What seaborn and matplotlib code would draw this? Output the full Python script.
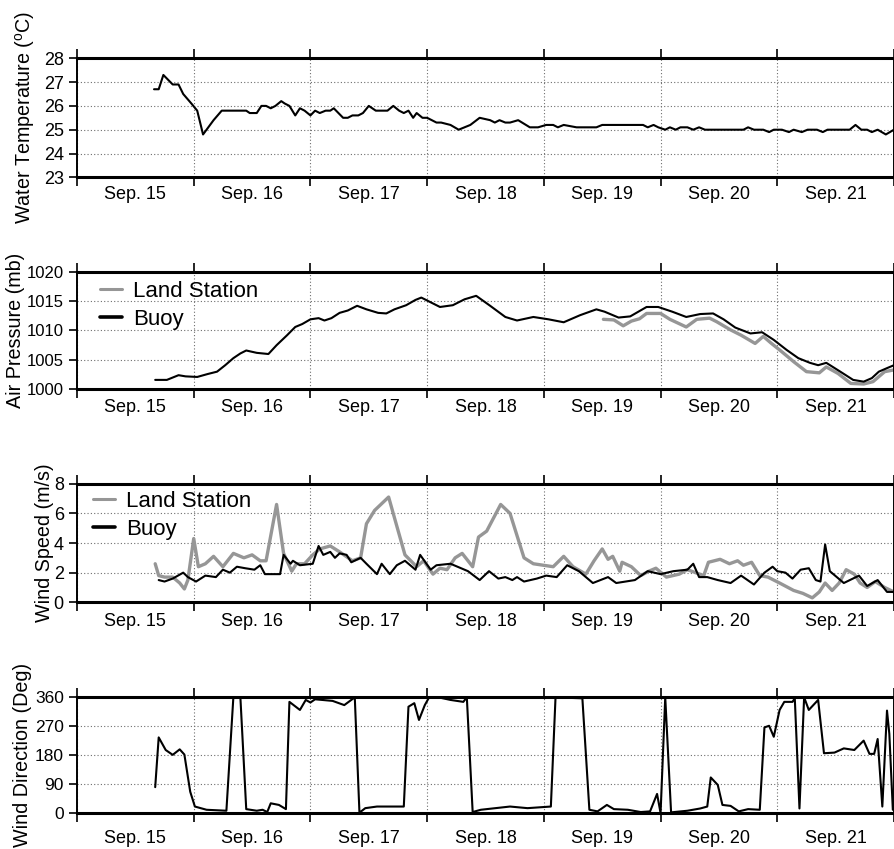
import matplotlib
matplotlib.use("Agg")
import matplotlib.pyplot as plt
import seaborn as sns
from matplotlib.ticker import FixedLocator, NullFormatter, FixedFormatter
from matplotlib.lines import Line2D

# ---------------- data (x = day of September, fractional) ----------------
day_edges = [15, 16, 17, 18, 19, 20, 21, 22]
day_centers = [15.5, 16.5, 17.5, 18.5, 19.5, 20.5, 21.5]
day_labels = ["Sep. 15", "Sep. 16", "Sep. 17", "Sep. 18", "Sep. 19", "Sep. 20", "Sep. 21"]

temp_day = [15.66, 15.70, 15.74, 15.82, 15.87, 15.91, 15.98, 16.03, 16.08, 16.17, 16.24,
            16.45, 16.48, 16.54, 16.58, 16.62, 16.66, 16.70, 16.75, 16.78, 16.82, 16.87,
            16.91, 16.95, 17.00, 17.04, 17.08, 17.13, 17.17, 17.20, 17.28, 17.32, 17.36,
            17.41, 17.45, 17.50, 17.56, 17.66, 17.71, 17.76, 17.80, 17.84, 17.88, 17.91,
            17.96, 18.00, 18.08, 18.12, 18.20, 18.27, 18.37, 18.45, 18.54, 18.58, 18.62,
            18.67, 18.71, 18.78, 18.88, 18.95, 19.02, 19.08, 19.12, 19.17, 19.28, 19.45,
            19.50, 19.85, 19.89, 19.94, 19.98, 20.04, 20.08, 20.13, 20.17, 20.23, 20.28,
            20.33, 20.38, 20.71, 20.75, 20.80, 20.88, 20.93, 20.97, 21.04, 21.10, 21.14,
            21.21, 21.26, 21.34, 21.39, 21.43, 21.62, 21.67, 21.72, 21.77, 21.81, 21.86,
            21.93, 22.00]
temp_val = [26.7, 26.7, 27.3, 26.9, 26.9, 26.5, 26.1, 25.8, 24.8, 25.4, 25.8,
            25.8, 25.7, 25.7, 26.0, 26.0, 25.9, 26.0, 26.2, 26.1, 26.0, 25.6,
            25.9, 25.8, 25.6, 25.8, 25.7, 25.8, 25.8, 25.9, 25.5, 25.5, 25.6,
            25.6, 25.7, 26.0, 25.8, 25.8, 26.0, 25.8, 25.7, 25.8, 25.5, 25.7,
            25.5, 25.5, 25.3, 25.3, 25.2, 25.0, 25.2, 25.5, 25.4, 25.3, 25.4,
            25.3, 25.3, 25.4, 25.1, 25.1, 25.2, 25.2, 25.1, 25.2, 25.1, 25.1,
            25.2, 25.2, 25.1, 25.2, 25.1, 25.0, 25.1, 25.0, 25.1, 25.1, 25.0,
            25.1, 25.0, 25.0, 25.1, 25.0, 25.0, 24.9, 25.0, 25.0, 24.9, 25.0,
            24.9, 25.0, 25.0, 24.9, 25.0, 25.0, 25.2, 25.0, 25.0, 24.9, 25.0,
            24.8, 25.0]

pres_buoy_day = [15.67, 15.77, 15.87, 15.93, 16.03, 16.12, 16.20, 16.27, 16.34, 16.40,
                 16.45, 16.54, 16.64, 16.71, 16.80, 16.87, 16.93, 17.00, 17.07, 17.12,
                 17.18, 17.25, 17.32, 17.40, 17.48, 17.58, 17.65, 17.72, 17.82, 17.90,
                 17.95, 18.02, 18.11, 18.22, 18.32, 18.42, 18.54, 18.67, 18.77, 18.91,
                 19.04, 19.17, 19.31, 19.45, 19.52, 19.64, 19.74, 19.88, 19.98, 20.10,
                 20.22, 20.34, 20.45, 20.54, 20.64, 20.77, 20.87, 20.97, 21.08, 21.18,
                 21.28, 21.35, 21.42, 21.54, 21.65, 21.74, 21.81, 21.87, 21.94, 22.00]
pres_buoy_val = [1001.6, 1001.6, 1002.4, 1002.2, 1002.1, 1002.6, 1003.0, 1004.1, 1005.3, 1006.1,
                 1006.6, 1006.2, 1006.0, 1007.5, 1009.2, 1010.6, 1011.1, 1011.9, 1012.1, 1011.7,
                 1012.1, 1013.0, 1013.4, 1014.2, 1013.6, 1013.0, 1012.9, 1013.6, 1014.3, 1015.2,
                 1015.6, 1014.9, 1014.0, 1014.3, 1015.3, 1015.9, 1014.2, 1012.3, 1011.7, 1012.3,
                 1011.9, 1011.4, 1012.6, 1013.6, 1013.2, 1012.2, 1012.4, 1014.0, 1014.0, 1013.2,
                 1012.3, 1012.8, 1012.9, 1011.9, 1010.5, 1009.5, 1009.7, 1008.4, 1006.7, 1005.3,
                 1004.5, 1004.1, 1004.5, 1003.0, 1001.6, 1001.3, 1001.9, 1003.0, 1003.6, 1004.1]

pres_land_day = [19.51, 19.60, 19.68, 19.75, 19.82, 19.88, 20.00, 20.08, 20.22, 20.31,
                 20.42, 20.48, 20.60, 20.69, 20.81, 20.88, 20.95, 21.02, 21.14, 21.25,
                 21.36, 21.42, 21.52, 21.63, 21.74, 21.82, 21.92, 22.00]
pres_land_val = [1011.9, 1011.8, 1010.8, 1011.6, 1012.0, 1012.9, 1012.9, 1011.9, 1010.6, 1011.9,
                 1012.1, 1011.5, 1010.1, 1009.2, 1007.8, 1009.0, 1007.8, 1006.7, 1004.7, 1003.0,
                 1002.8, 1003.8, 1002.7, 1001.0, 1000.9, 1001.3, 1003.0, 1003.3]

ws_land_day = [15.67, 15.70, 15.75, 15.82, 15.88, 15.92, 15.95, 16.00, 16.04, 16.10,
               16.17, 16.25, 16.34, 16.43, 16.50, 16.57, 16.62, 16.71, 16.77, 16.84,
               16.88, 16.95, 17.02, 17.08, 17.17, 17.25, 17.36, 17.43, 17.48, 17.55,
               17.67, 17.72, 17.81, 17.91, 17.97, 18.05, 18.11, 18.17, 18.24, 18.30,
               18.39, 18.44, 18.51, 18.63, 18.71, 18.83, 18.91, 19.08, 19.17, 19.25,
               19.36, 19.43, 19.50, 19.55, 19.59, 19.65, 19.67, 19.75, 19.83, 19.90,
               19.96, 20.05, 20.16, 20.23, 20.37, 20.41, 20.51, 20.59, 20.66, 20.71,
               20.78, 20.85, 20.92, 21.02, 21.14, 21.22, 21.30, 21.36, 21.41, 21.47,
               21.53, 21.59, 21.66, 21.71, 21.77, 21.84, 21.92, 22.00]
ws_land_val = [2.6, 1.8, 1.7, 1.7, 1.3, 0.9, 1.5, 4.3, 2.4, 2.6,
               3.1, 2.4, 3.3, 3.0, 3.2, 2.8, 2.8, 6.6, 3.3, 2.1,
               2.6, 2.6, 3.2, 3.6, 3.8, 3.4, 2.8, 3.0, 5.3, 6.2,
               7.1, 5.7, 3.2, 2.4, 2.8, 1.9, 2.3, 2.2, 3.0, 3.3,
               2.4, 4.4, 4.8, 6.6, 6.0, 3.0, 2.6, 2.4, 3.1, 2.4,
               1.9, 2.8, 3.6, 2.9, 3.1, 2.1, 2.7, 2.4, 1.8, 2.1,
               2.3, 1.7, 1.9, 2.2, 1.8, 2.7, 2.9, 2.6, 2.8, 2.5,
               2.7, 1.8, 1.7, 1.3, 0.8, 0.6, 0.3, 0.7, 1.3, 0.8,
               1.3, 2.2, 1.9, 1.3, 1.0, 1.4, 1.0, 0.7]

ws_buoy_day = [15.70, 15.75, 15.82, 15.91, 15.95, 16.02, 16.10, 16.19, 16.25, 16.31,
               16.37, 16.44, 16.52, 16.57, 16.61, 16.74, 16.77, 16.83, 16.85, 16.91,
               17.02, 17.07, 17.11, 17.17, 17.21, 17.25, 17.31, 17.35, 17.43, 17.48,
               17.57, 17.61, 17.68, 17.74, 17.81, 17.90, 17.94, 18.03, 18.08, 18.20,
               18.35, 18.45, 18.53, 18.61, 18.67, 18.73, 18.77, 18.83, 18.94, 19.02,
               19.11, 19.20, 19.30, 19.42, 19.55, 19.62, 19.78, 19.89, 20.00, 20.11,
               20.23, 20.28, 20.33, 20.40, 20.49, 20.60, 20.69, 20.80, 20.89, 20.96,
               21.00, 21.07, 21.13, 21.20, 21.27, 21.33, 21.37, 21.41, 21.45, 21.51,
               21.57, 21.70, 21.77, 21.86, 21.94, 22.00]
ws_buoy_val = [1.5, 1.4, 1.6, 2.0, 1.7, 1.4, 1.8, 1.7, 2.2, 2.0,
               2.4, 2.3, 2.2, 2.5, 1.9, 1.9, 3.2, 2.6, 2.8, 2.5,
               2.6, 3.8, 3.2, 3.4, 3.0, 3.3, 3.2, 2.7, 3.0, 2.6,
               1.9, 2.6, 1.9, 2.5, 2.8, 2.2, 3.2, 2.2, 2.5, 2.6,
               2.1, 1.5, 2.1, 1.6, 1.7, 1.5, 1.7, 1.4, 1.6, 1.8,
               1.7, 2.5, 2.1, 1.3, 1.7, 1.3, 1.5, 2.1, 1.9, 2.1,
               2.2, 2.6, 1.7, 1.7, 1.5, 1.3, 1.8, 1.2, 2.0, 2.4,
               2.1, 2.0, 1.6, 2.2, 2.3, 1.5, 1.4, 3.9, 2.1, 1.7,
               1.3, 1.8, 1.1, 1.5, 0.7, 0.7]

wd_day = [15.67, 15.70, 15.76, 15.82, 15.88, 15.92, 15.97, 16.01, 16.11, 16.28,
          16.34, 16.40, 16.45, 16.54, 16.59, 16.63, 16.66, 16.73, 16.79, 16.82,
          16.91, 16.96, 17.00, 17.04, 17.19, 17.29, 17.38, 17.42, 17.47, 17.57,
          17.80, 17.84, 17.89, 17.93, 17.98, 18.02, 18.11, 18.20, 18.31, 18.34,
          18.39, 18.46, 18.71, 18.86, 19.06, 19.10, 19.33, 19.39, 19.46, 19.54,
          19.60, 19.72, 19.83, 19.91, 19.97, 20.00, 20.04, 20.09, 20.23, 20.34,
          20.40, 20.43, 20.49, 20.53, 20.60, 20.67, 20.75, 20.85, 20.89, 20.93,
          20.97, 21.02, 21.06, 21.13, 21.15, 21.19, 21.23, 21.27, 21.35, 21.40,
          21.49, 21.57, 21.66, 21.74, 21.79, 21.83, 21.86, 21.90, 21.94, 21.96,
          21.99, 22.00]
wd_val = [80, 234, 195, 180, 197, 181, 66, 20, 10, 7,
          360, 357, 12, 7, 10, 3, 30, 25, 12, 344,
          319, 350, 342, 352, 347, 334, 358, 1, 15, 20,
          20, 329, 340, 288, 334, 360, 357, 350, 344, 358,
          3, 10, 20, 15, 20, 358, 355, 10, 5, 25,
          12, 10, 3, 5, 59, 0, 358, 2, 7, 14,
          20, 110, 87, 25, 22, 5, 12, 10, 265, 270,
          236, 319, 344, 344, 355, 14, 358, 319, 350, 185,
          187, 200, 195, 224, 183, 183, 229, 20, 317, 245,
          10, 10]

# ---------------- styling ----------------
sns.set_theme(style="white")
plt.rcParams['font.family'] = ['Liberation Sans', 'DejaVu Sans']
plt.rcParams['mathtext.fontset'] = 'custom'
plt.rcParams['mathtext.rm'] = 'Liberation Sans'
plt.rcParams['mathtext.it'] = 'Liberation Sans:italic'
for k in ['text.color', 'axes.labelcolor', 'xtick.color', 'ytick.color', 'axes.edgecolor']:
    plt.rcParams[k] = 'black'

LAND = '#969696'
BUOY = 'black'

fig = plt.figure(figsize=(8.95, 8.49), dpi=100)
FW, FH = 895.0, 849.0
left_px, right_px = 77.0, 894.0
rows = [(58.3, 177.3), (271.7, 389.3), (483.7, 602.3), (696.7, 813.0)]
axes = [fig.add_axes([left_px / FW, 1 - b / FH, (right_px - left_px) / FW, (b - t) / FH])
        for t, b in rows]


def style(ax, ylim, yticks, ylabel, labelx, xpad=6, ysize=13):
    ax.set_xlim(15, 22)
    ax.set_ylim(*ylim)
    ax.yaxis.set_major_locator(FixedLocator(yticks))
    ax.xaxis.set_major_locator(FixedLocator(day_edges))
    ax.xaxis.set_major_formatter(NullFormatter())
    ax.xaxis.set_minor_locator(FixedLocator(day_centers))
    ax.xaxis.set_minor_formatter(FixedFormatter(day_labels))
    ax.tick_params(axis='x', which='major', direction='out', length=6.5, width=1.2,
                   top=True, bottom=True, color='black')
    ax.tick_params(axis='x', which='minor', length=0, pad=xpad, labelsize=13,
                   bottom=True, labelcolor='black')
    ax.tick_params(axis='y', which='major', direction='out', length=6, width=1.2,
                   left=True, pad=3.5, labelsize=ysize, labelcolor='black', color='black')
    ax.grid(True, which='major', axis='both', color='#6e6e6e',
            linestyle=(0, (1, 2)), linewidth=0.8)
    ax.set_axisbelow(True)
    for side in ['top', 'bottom']:
        ax.spines[side].set_linewidth(2.2)
    for side in ['left', 'right']:
        ax.spines[side].set_linewidth(1.4)
    for s in ax.spines.values():
        s.set_color('black')
    ax.set_xlabel('')
    ax.set_ylabel(ylabel, fontsize=14.2)
    ax.yaxis.set_label_coords(labelx, 0.5)


# Panel 1: water temperature
ax = axes[0]
sns.lineplot(x=temp_day, y=temp_val, ax=ax, color=BUOY, linewidth=1.5, sort=False, estimator=None)
style(ax, (23, 28), [23, 24, 25, 26, 27, 28], r'Water Temperature ($^{\rm o}$C)', -0.049)

# Panel 2: air pressure
ax = axes[1]
sns.lineplot(x=pres_land_day, y=pres_land_val, ax=ax, color=LAND, linewidth=2.4, sort=False, estimator=None)
sns.lineplot(x=pres_buoy_day, y=pres_buoy_val, ax=ax, color=BUOY, linewidth=1.5, sort=False, estimator=None)
style(ax, (1000, 1020), [1000, 1005, 1010, 1015, 1020], 'Air Pressure (mb)', -0.064,
      xpad=7, ysize=12)

# Panel 3: wind speed
ax = axes[2]
sns.lineplot(x=ws_land_day, y=ws_land_val, ax=ax, color=LAND, linewidth=2.4, sort=False, estimator=None)
sns.lineplot(x=ws_buoy_day, y=ws_buoy_val, ax=ax, color=BUOY, linewidth=1.5, sort=False, estimator=None)
style(ax, (0, 8), [0, 2, 4, 6, 8], 'Wind Speed (m/s)', -0.028, xpad=8)

# Panel 4: wind direction
ax = axes[3]
sns.lineplot(x=wd_day, y=wd_val, ax=ax, color=BUOY, linewidth=1.5, sort=False, estimator=None)
style(ax, (0, 360), [0, 90, 180, 270, 360], 'Wind Direction (Deg)', -0.055, xpad=12.5,
      ysize=12.5)

handles = [Line2D([], [], color=LAND, linewidth=2.2), Line2D([], [], color=BUOY, linewidth=2.6)]
labels = ['Land Station', 'Buoy']
for ax, anchor in [(axes[1], (0.028, 0.925)), (axes[2], (0.0196, 0.94))]:
    ax.legend(handles, labels, loc='upper left', bbox_to_anchor=anchor, frameon=False,
              fontsize=16, handlelength=1.0, handletextpad=0.5, labelspacing=0.32,
              borderaxespad=0, borderpad=0)

fig.savefig('out.png', dpi=100)
